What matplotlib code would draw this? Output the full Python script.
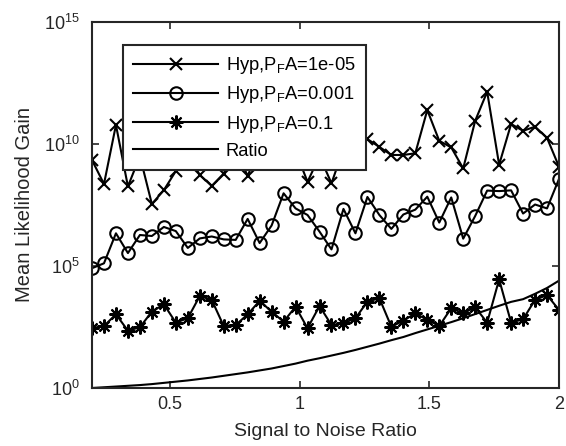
import numpy as np
import matplotlib
matplotlib.use('Agg')
import matplotlib.pyplot as plt
from matplotlib.ticker import NullLocator

plt.rcParams['font.family'] = ['Liberation Sans', 'DejaVu Sans']
plt.rcParams['mathtext.fontset'] = 'custom'
plt.rcParams['mathtext.rm'] = 'Liberation Sans'
plt.rcParams['mathtext.it'] = 'Liberation Sans:italic'
plt.rcParams['mathtext.default'] = 'regular'

# Data (log10 of mean likelihood gain)
snr = np.linspace(0.2, 2.0, 40)
log_hyp_1e5 = [9.34, 8.36, 10.78, 8.26, 9.50, 7.54, 8.11, 8.89, 9.60, 8.73,
               8.28, 8.79, 9.80, 8.69, 9.90, 9.60, 10.20, 9.70, 8.45, 9.50,
               8.39, 9.80, 9.90, 10.20, 9.88, 9.55, 9.55, 9.62, 11.39, 10.13,
               9.86, 9.00, 10.95, 12.14, 9.15, 10.82, 10.54, 10.71, 10.25, 9.07]
log_hyp_1e3 = [4.91, 5.11, 6.34, 5.53, 6.27, 6.23, 6.60, 6.43, 5.74, 6.13,
               6.21, 6.09, 6.07, 6.93, 5.94, 6.66, 7.98, 7.36, 7.09, 6.41,
               5.68, 7.34, 6.34, 7.83, 7.09, 6.52, 7.11, 7.31, 7.84, 6.78,
               7.81, 6.12, 7.05, 8.09, 8.07, 8.10, 7.15, 7.52, 7.36, 8.57]
log_hyp_1e1 = [2.45, 2.54, 3.02, 2.35, 2.49, 3.13, 3.43, 2.68, 2.86, 3.77,
               3.61, 2.54, 2.58, 3.02, 3.57, 3.13, 2.72, 3.33, 2.45, 3.36,
               2.58, 2.65, 2.86, 3.54, 3.68, 2.51, 2.76, 3.06, 2.79, 2.54,
               3.27, 3.06, 3.31, 2.68, 4.45, 2.68, 2.82, 3.61, 3.81, 3.20]
log_ratio = [0.00, 0.03, 0.06, 0.09, 0.12, 0.16, 0.21, 0.26, 0.31, 0.37,
             0.43, 0.50, 0.57, 0.64, 0.72, 0.80, 0.90, 1.00, 1.12, 1.22,
             1.33, 1.44, 1.56, 1.69, 1.82, 1.96, 2.09, 2.25, 2.40, 2.55,
             2.70, 2.86, 3.03, 3.20, 3.37, 3.53, 3.64, 3.86, 4.10, 4.40]

labels = ['Hyp,P$_F$A=1e-05', 'Hyp,P$_F$A=0.001', 'Hyp,P$_F$A=0.1', 'Ratio']

fig = plt.figure(figsize=(5.66, 4.46), dpi=100)
fig.subplots_adjust(left=92/566, right=559/566, top=1-22/446, bottom=1-388/446)
ax = fig.add_subplot(111)

lw = 1.5
ax.semilogy(snr, 10**np.array(log_hyp_1e5), 'k-', marker='x', lw=lw, ms=9,
            mew=1.5, label=labels[0])
ax.semilogy(snr, 10**np.array(log_hyp_1e3), 'k-', marker='o', lw=lw, ms=9,
            mew=1.5, mfc='none', label=labels[1])
ax.semilogy(snr, 10**np.array(log_hyp_1e1), 'k-', marker=(8, 2, 0), lw=lw,
            ms=10, mew=1.5, label=labels[2])
ax.semilogy(snr, 10**np.array(log_ratio), 'k-', lw=lw, label=labels[3])

ax.set_xlim(0.2, 2.0)
ax.set_ylim(1, 1e15)
ax.set_xticks([0.5, 1, 1.5, 2])
ax.set_xticklabels(['0.5', '1', '1.5', '2'])
ax.set_yticks([1, 1e5, 1e10, 1e15])
ax.yaxis.set_minor_locator(NullLocator())
ax.tick_params(direction='in', top=True, right=True, length=5, width=1.2,
               labelsize=13, colors='#262626', pad=6)
ax.tick_params(axis='y', pad=9)
for s in ax.spines.values():
    s.set_linewidth(1.5)
    s.set_color('#262626')

ax.set_xlabel('Signal to Noise Ratio', fontsize=14, color='#262626', labelpad=7)
ax.set_ylabel('Mean Likelihood Gain', fontsize=14.5, color='#262626',
              labelpad=7)

leg = ax.legend(loc='upper left', bbox_to_anchor=(0.066, 0.937),
                borderaxespad=0, fontsize=13.2, fancybox=False,
                edgecolor='#262626', framealpha=1, handlelength=4.65,
                handletextpad=0.42, labelspacing=0.45, borderpad=0.55)
leg.get_frame().set_linewidth(1.5)

plt.savefig('out.png', dpi=100)
